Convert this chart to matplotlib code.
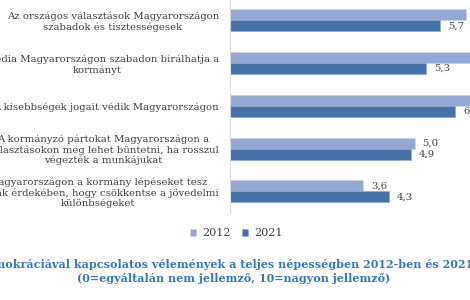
import matplotlib
matplotlib.use("Agg")
import matplotlib.pyplot as plt
import numpy as np

categories = [
    "Az országos választások Magyarországon\nszabadok és tisztességesek",
    "A média Magyarországon szabadon bírálhatja a\nkormányt",
    "A kisebbségek jogait védik Magyarországon",
    "A kormányzó pártokat Magyarországon a\nválasztásokon meg lehet büntetni, ha rosszul\nvégezték a munkájukat",
    "Magyarországon a kormány lépéseket tesz\nannak érdekében, hogy csökkentse a jövedelmi\nkülönbségeket",
]
series_names = ["2012", "2021"]
values_2012 = [6.4, 6.8, 6.9, 5.0, 3.6]
values_2021 = [5.7, 5.3, 6.1, 4.9, 4.3]
title_line1 = "A demokráciával kapcsolatos vélemények a teljes népességben 2012-ben és 2021-ben"
title_line2 = "(0=egyáltalán nem jellemző, 10=nagyon jellemző)"

c2012 = "#93A8D3"
c2021 = "#4572A9"
txt = "#3C3C3C"
serif = ["DejaVu Serif"]

W, H = 470, 300
fig = plt.figure(figsize=(W / 100, H / 100), dpi=100)
ax = fig.add_axes([230 / W, 1 - 212.7 / H, 10 * 36.9 / W, 213.7 / H])

y = np.arange(len(categories))
bh = 0.257
b1 = ax.barh(y - bh / 2, values_2012, height=bh, color=c2012, edgecolor="#C9D3EA", linewidth=0.4, label=series_names[0], clip_on=False)
b2 = ax.barh(y + bh / 2, values_2021, height=bh, color=c2021, edgecolor="#8FA6CF", linewidth=0.4, label=series_names[1], clip_on=False)

for bars, vals in ((b1, values_2012), (b2, values_2021)):
    for rect, v in zip(bars, vals):
        ax.text(v + 0.22, rect.get_y() + rect.get_height() / 2, f"{v:.1f}".replace(".", ","),
                va="center", ha="left", fontsize=7.3, color=txt, family=serif, clip_on=False)

ax.set_xlim(0, 10)
ax.set_ylim(len(categories) - 0.5, -0.5)
ax.set_yticks(y)
ax.set_yticklabels(categories, family=serif, fontsize=7.3, color=txt, multialignment="center", linespacing=1.12)
ax.tick_params(axis="y", length=0, pad=8)
ax.set_xticks([])
for s in ("top", "right", "bottom"):
    ax.spines[s].set_visible(False)
ax.spines["left"].set_color("#D9D9D9")
ax.spines["left"].set_linewidth(0.8)

fig.legend(handles=[b1, b2], labels=series_names, loc="center", bbox_to_anchor=(236 / W, 1 - 233 / H),
           ncol=2, frameon=False, prop={"family": serif, "size": 8}, labelcolor=txt,
           handlelength=0.6, handleheight=0.6, handletextpad=0.5, columnspacing=1.0)

fig.text(234 / W, 1 - 265 / H, title_line1, ha="center", va="center", fontsize=8.05,
         fontweight="bold", color="#3375C0", family=serif)
fig.text(234 / W, 1 - 278 / H, title_line2, ha="center", va="center", fontsize=8.05,
         fontweight="bold", color="#3375C0", family=serif)

fig.savefig("out.png", dpi=100)
